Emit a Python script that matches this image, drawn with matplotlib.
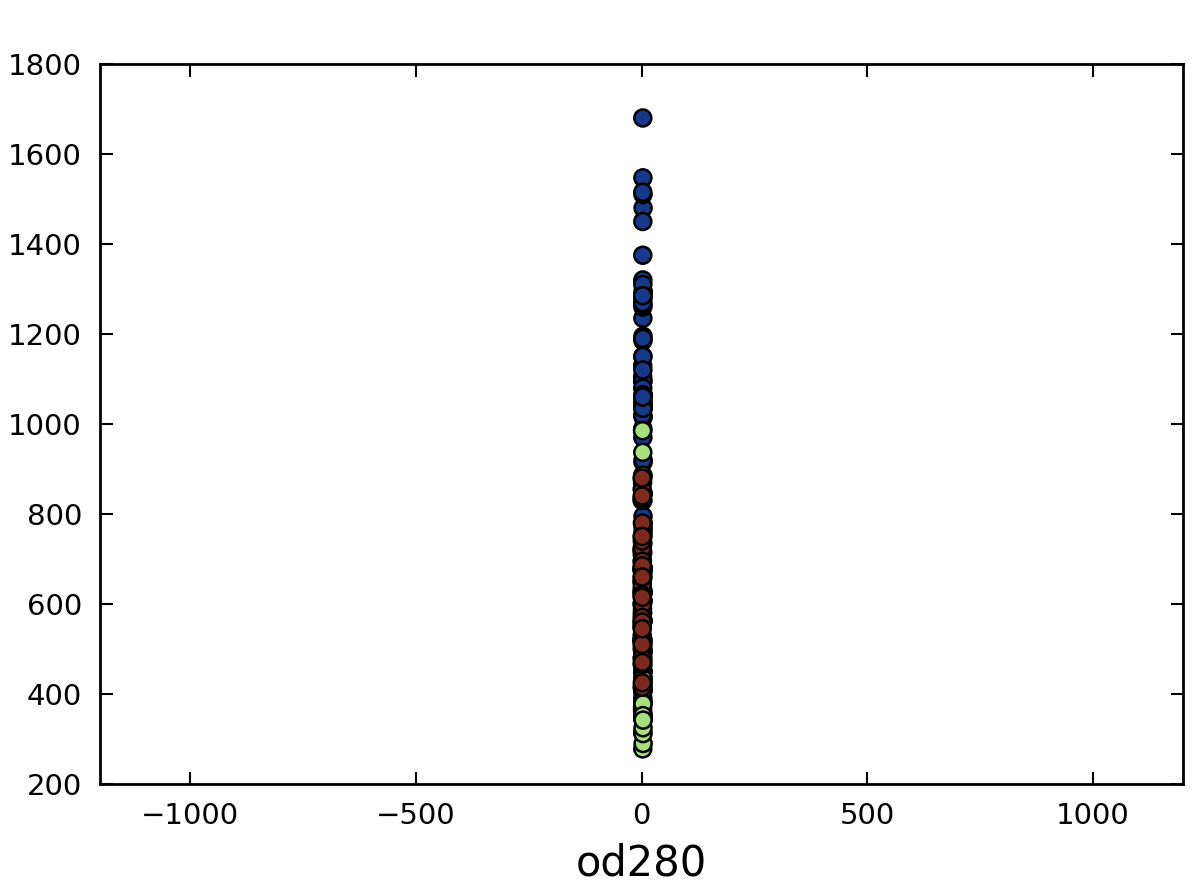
import numpy as np
import matplotlib
matplotlib.use("Agg")
import matplotlib.pyplot as plt
from matplotlib.colors import ListedColormap

# wine data: od280 (x) vs proline (y), one array per class
od280_c0 = [3.92, 3.40, 3.17, 3.45, 2.93, 2.85, 3.58, 3.58, 2.85, 3.55,
            3.17, 2.82, 2.90, 2.73, 3.00, 2.88, 2.65, 2.57, 2.82, 3.36,
            3.71, 3.52, 4.00, 3.63, 3.82, 3.20, 3.22, 2.77, 3.40, 3.59,
            2.71, 2.88, 2.87, 3.00, 2.87, 3.47, 2.78, 2.51, 2.69, 3.53,
            3.38, 3.00, 3.00, 3.35, 3.33, 2.75, 3.10, 2.78, 3.26, 2.93,
            3.20, 3.03, 3.13, 2.84, 2.87, 2.96, 2.96, 2.84, 2.77]
proline_c0 = [1065, 1050, 1185, 1480, 735, 1450, 1290, 1295, 1045, 1045,
              1510, 1280, 1320, 1150, 1547, 1310, 1280, 1130, 1680, 845,
              780, 770, 1035, 1015, 845, 830, 1195, 1285, 915, 1035,
              1285, 1515, 990, 1235, 1095, 920, 880, 1105, 1020, 760,
              795, 1035, 1095, 680, 885, 1080, 1065, 985, 1060, 1260,
              1150, 1265, 1190, 1375, 1060, 1120, 970, 1270, 1285]

od280_c1 = [1.82, 1.59, 2.87, 2.30, 3.18, 3.48, 1.82, 2.50, 2.52, 2.83,
            2.01, 2.31, 3.12, 3.16, 2.26, 2.72, 3.00, 2.78, 2.47, 2.77,
            2.75, 2.83, 2.51, 2.96, 2.71, 3.50, 3.13, 2.90, 2.93, 3.69,
            2.14, 2.63, 3.02, 2.98, 3.57, 2.90, 2.78, 3.64, 3.26, 3.26,
            2.74, 1.75, 2.81, 3.21, 2.85, 3.30, 2.50, 2.63, 2.81, 3.33,
            2.87, 3.05, 3.39, 3.69, 3.12, 2.75, 3.00, 2.86, 3.50, 2.46,
            3.14, 2.72, 2.01, 2.27, 3.04, 2.69, 3.30, 3.02, 2.12, 3.59,
            2.48]
proline_c1 = [520, 680, 450, 630, 420, 355, 678, 502, 510, 750,
              718, 870, 410, 472, 985, 886, 428, 392, 500, 750,
              463, 278, 714, 630, 515, 520, 450, 495, 562, 680,
              625, 480, 450, 495, 290, 345, 937, 625, 428, 660,
              406, 710, 562, 438, 415, 672, 315, 510, 488, 312,
              680, 562, 325, 607, 434, 385, 407, 495, 345, 372,
              564, 625, 465, 365, 380, 380, 378, 352, 466, 342,
              580]

od280_c2 = [1.29, 1.42, 1.36, 1.29, 1.51, 1.58, 1.27, 1.69, 1.82, 2.15,
            2.05, 2.00, 1.33, 1.55, 1.47, 1.33, 1.51, 1.55, 1.48, 1.64,
            1.73, 1.96, 1.78, 1.58, 1.75, 1.68, 1.75, 1.36, 1.62, 1.33,
            1.47, 1.33, 1.51, 1.55, 1.48, 1.64, 1.73, 1.96, 1.78, 1.58,
            1.75, 1.68, 1.75, 1.74, 1.56, 1.62, 1.60, 1.60]
proline_c2 = [630, 530, 560, 600, 650, 695, 720, 515, 580, 590,
              600, 780, 520, 550, 855, 830, 415, 625, 650, 550,
              500, 480, 425, 675, 640, 725, 480, 880, 660, 620,
              520, 680, 570, 675, 615, 520, 695, 685, 750, 510,
              470, 660, 740, 750, 835, 840, 560, 545]

x_ticks = [-1000, -500, 0, 500, 1000]
y_ticks = [200, 400, 600, 800, 1000, 1200, 1400, 1600, 1800]

CLASS_COLORS = ["#17398c", "#a5e07c", "#7d2a1e"]

x = np.array(od280_c0 + od280_c1 + od280_c2)
y = np.array(proline_c0 + proline_c1 + proline_c2)
labels = np.array([0] * len(od280_c0) + [1] * len(od280_c1) + [2] * len(od280_c2))

fig = plt.figure(figsize=(11.99, 8.96), dpi=100)
fig.patch.set_facecolor("white")
ax = fig.add_axes([0.0834, 0.125, 0.9033, 0.8036])

ax.scatter(x, y, c=labels, cmap=ListedColormap(CLASS_COLORS), s=150,
           edgecolors="black", linewidths=1.8)

ax.set_xlim(-1200, 1200)
ax.set_ylim(200, 1800)
ax.set_xticks(x_ticks)
ax.set_yticks(y_ticks)
ax.set_xticklabels(["\u22121000", "\u2212500", "0", "500", "1000"])
ax.tick_params(direction="in", top=True, right=True, length=9, width=1.5,
               labelsize=21, pad=13)
for spine in ax.spines.values():
    spine.set_linewidth(2)
ax.set_xlabel("od280", fontsize=30, labelpad=9)

fig.savefig("out.png", dpi=100, facecolor="white")
